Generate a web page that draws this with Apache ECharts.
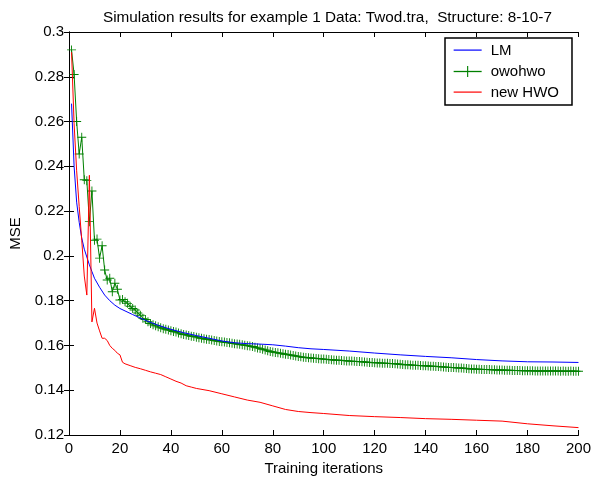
<!DOCTYPE html>
<html>
<head>
<meta charset="utf-8">
<script src="https://cdn.jsdelivr.net/npm/echarts@6/dist/echarts.min.js"></script>
<style>html,body{margin:0;padding:0;background:#fff}#c{width:594px;height:483px}</style>
</head>
<body>
<div id="c"></div>
<script>
var titleText = 'Simulation results for example 1 Data: Twod.tra,  Structure: 8-10-7';
var xTicks = [0, 20, 40, 60, 80, 100, 120, 140, 160, 180, 200];
var yTicks = [0.12, 0.14, 0.16, 0.18, 0.2, 0.22, 0.24, 0.26, 0.28, 0.3];
var seriesNames = ['LM', 'owohwo', 'new HWO'];
var seriesColors = ['#0000ff', '#008000', '#ff0000'];

// LM: [iteration, MSE]
var lmIter = [1,2,3,4,5,6,7,8,9,10,12,14,16,18,20,25,30,35,40,45,50,55,60,65,70,75,80,85,90,95,100,110,120,130,140,150,160,170,180,190,200];
var lmMSE = [0.268,0.240,0.224,0.215,0.208,0.203,0.1995,0.196,0.193,0.190,0.186,0.1825,0.180,0.178,0.1765,0.1738,0.1712,0.1690,0.1672,0.1657,0.1644,0.1632,0.1620,0.1612,0.1608,0.1606,0.1603,0.1597,0.1590,0.1585,0.1582,0.1575,0.1566,0.1558,0.1551,0.1545,0.1537,0.1531,0.1527,0.1526,0.1524];

// new HWO
var hwoIter = [1,2,3,4,5,6,7,8,9,10,11,12,13,14,15,16,17,18,19,20,21,22,24,26,28,30,32,34,36,38,40,42,44,46,48,50,55,60,65,70,75,80,85,90,95,100,110,120,130,140,150,160,170,180,190,200];
var hwoMSE = [0.291,0.259,0.238,0.222,0.207,0.191,0.1825,0.236,0.1705,0.1766,0.170,0.1665,0.1632,0.1632,0.1622,0.1600,0.1587,0.1578,0.1565,0.1558,0.1525,0.1518,0.1510,0.1502,0.1496,0.1489,0.1482,0.1476,0.1470,0.1460,0.1450,0.1440,0.1432,0.1420,0.1414,0.1408,0.1398,0.1384,0.1370,0.1356,0.1346,0.1330,0.1314,0.1305,0.1300,0.1296,0.1287,0.1282,0.1278,0.1273,0.1270,0.1266,0.1262,0.1250,0.1241,0.1233];

// owohwo: one value per iteration 1..200
var owoMSE = [
0.292,0.281,0.260,0.2455,0.253,0.234,0.2336,0.2153,0.229,0.207,
0.2075,0.199,0.2045,0.1937,0.1892,0.190,0.184,0.1878,0.1851,0.1803,
0.1805,0.1795,0.1788,0.1775,0.1765,0.1758,0.1745,0.1735,0.1721,0.1716,
0.1706,0.1698,0.1692,0.1688,0.1683,0.1679,0.1675,0.1672,0.1669,0.1666,
0.1662,0.1660,0.1656,0.1652,0.1649,0.1647,0.1644,0.1641,0.1640,0.1637,
0.1634,0.1632,0.1630,0.1628,0.1626,0.1624,0.1622,0.1620,0.1618,0.1616,
0.1615,0.1613,0.1612,0.1610,0.1608,0.1606,0.1605,0.1603,0.1601,0.1599,
0.1597,0.1595,0.1592,0.1589,0.1586,0.1583,0.1580,0.1576,0.1573,0.1571,
0.1569,0.1567,0.1565,0.1563,0.1561,0.1559,0.1557,0.1555,0.1553,0.1551,
0.1549,0.1547,0.1546,0.1545,0.1544,0.1543,0.1542,0.1541,0.1540,0.1539,
0.1538,0.1537,0.1536,0.1535,0.1534,0.1534,0.1533,0.1532,0.1531,0.1530,
0.1530,0.1529,0.1528,0.1528,0.1527,0.1526,0.1525,0.1524,0.1524,0.1523,
0.1522,0.1522,0.1521,0.1521,0.1520,0.1519,0.1519,0.1518,0.1517,0.1516,
0.1515,0.1514,0.1514,0.1513,0.1512,0.1511,0.1511,0.1510,0.1509,0.1509,
0.1508,0.1507,0.1507,0.1506,0.1506,0.1505,0.1504,0.1503,0.1502,0.1502,
0.1501,0.1500,0.1499,0.1499,0.1498,0.1497,0.1496,0.1495,0.1495,0.1494,
0.1494,0.1493,0.1493,0.1492,0.1492,0.1491,0.1491,0.1490,0.1490,0.1490,
0.1489,0.1489,0.1489,0.1488,0.1488,0.1488,0.1488,0.1487,0.1487,0.1487,
0.1487,0.1487,0.1486,0.1486,0.1486,0.1486,0.1486,0.1486,0.1486,0.1486,
0.1486,0.1486,0.1485,0.1486,0.1485,0.1485,0.1486,0.1485,0.1485,0.1485
];

function pairs(xs, ys) { return ys.map(function (y, i) { return [xs[i], y]; }); }
var owoIter = owoMSE.map(function (_, i) { return i + 1; });

var FONT = "'Liberation Sans', Arial, sans-serif";
var plus = 'path://M4.5,0H5.5V4.5H10V5.5H5.5V10H4.5V5.5H0V4.5H4.5Z';
var lineIcon = 'path://M0,0M28,14M0,6H28V7.2H0Z';

var chart = echarts.init(document.getElementById('c'), null, { renderer: 'canvas' });
var xBase = {
  type: 'value', min: xTicks[0], max: xTicks[xTicks.length - 1], interval: 20,
  axisLine: { show: true, lineStyle: { color: '#000', width: 1 } },
  axisTick: { show: true, inside: true, length: 5, lineStyle: { color: '#000' } },
  splitLine: { show: false }
};
var yBase = {
  type: 'value', min: yTicks[0], max: yTicks[yTicks.length - 1], interval: 0.02,
  axisLine: { show: true, lineStyle: { color: '#000', width: 1 } },
  axisTick: { show: true, inside: true, length: 5, lineStyle: { color: '#000' } },
  splitLine: { show: false }
};
chart.setOption({
  animation: false,
  backgroundColor: '#fff',
  textStyle: { fontFamily: FONT },
  title: {
    text: titleText, left: 98, top: 5,
    textStyle: { fontSize: 15.3, fontWeight: 'normal', color: '#000', fontFamily: FONT }
  },
  grid: { left: 67, right: 14, top: 32, bottom: 48 },
  legend: {
    orient: 'vertical', left: 445, top: 38,
    backgroundColor: '#fff', borderColor: '#000', borderWidth: 1.5,
    padding: [5, 13, 5, 8], itemWidth: 28, itemHeight: 14, itemGap: 6,
    textStyle: { fontSize: 15, color: '#000', fontFamily: FONT, padding: [0, 0, 0, 4] },
    data: [
      { name: seriesNames[0], icon: lineIcon, itemStyle: { color: seriesColors[0] } },
      { name: seriesNames[1], lineStyle: { color: seriesColors[1], width: 1.3 } },
      { name: seriesNames[2], icon: lineIcon, itemStyle: { color: seriesColors[2] } }
    ]
  },
  xAxis: [
    Object.assign({}, xBase, {
      position: 'bottom', name: 'Training iterations', nameLocation: 'middle', nameGap: 26,
      nameTextStyle: { fontSize: 15, color: '#000', fontFamily: FONT },
      axisLabel: { fontSize: 15, color: '#000', margin: 6, fontFamily: FONT }
    }),
    Object.assign({}, xBase, { position: 'top', axisLabel: { show: false } })
  ],
  yAxis: [
    Object.assign({}, yBase, {
      position: 'left', name: 'MSE', nameLocation: 'middle', nameGap: 46,
      nameTextStyle: { fontSize: 15, color: '#000', fontFamily: FONT },
      axisLabel: { fontSize: 15, color: '#000', margin: 5, fontFamily: FONT,
        formatter: function (v) { return String(+v.toFixed(2)); } }
    }),
    Object.assign({}, yBase, { position: 'right', axisLabel: { show: false } })
  ],
  series: [
    {
      name: seriesNames[0], type: 'line', data: pairs(lmIter, lmMSE),
      showSymbol: false, symbol: 'none', color: seriesColors[0],
      lineStyle: { width: 1, color: seriesColors[0] }, z: 3
    },
    {
      name: seriesNames[1], type: 'line', data: pairs(owoIter, owoMSE),
      symbol: plus, symbolSize: 9, showSymbol: true, showAllSymbol: true, color: seriesColors[1],
      itemStyle: { color: seriesColors[1] },
      lineStyle: { width: 1, color: seriesColors[1] }, z: 2
    },
    {
      name: seriesNames[2], type: 'line', data: pairs(hwoIter, hwoMSE),
      showSymbol: false, symbol: 'none', color: seriesColors[2],
      lineStyle: { width: 1, color: seriesColors[2] }, z: 4
    }
  ]
});
</script>
</body>
</html>
